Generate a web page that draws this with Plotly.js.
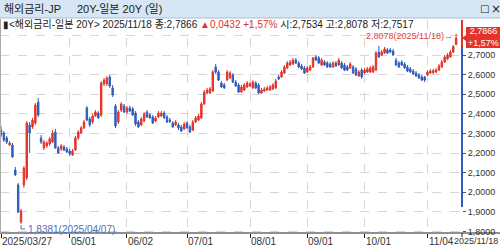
<!DOCTYPE html>
<html><head><meta charset="utf-8">
<script src="https://cdn.plot.ly/plotly-3.0.1.min.js"></script>
<style>html,body{margin:0;padding:0;background:#fff;}#c{width:500px;height:247px;}</style>
</head><body><div id="c"></div>
<script>
const dates = [
"2025-03-27","2025-03-28","2025-03-31",
"2025-04-01","2025-04-02","2025-04-03","2025-04-04","2025-04-07","2025-04-08","2025-04-09","2025-04-10","2025-04-11","2025-04-14","2025-04-15","2025-04-16","2025-04-17","2025-04-18","2025-04-21","2025-04-22","2025-04-23","2025-04-24","2025-04-25","2025-04-28","2025-04-30",
"2025-05-01","2025-05-02","2025-05-07","2025-05-08","2025-05-09","2025-05-12","2025-05-13","2025-05-14","2025-05-15","2025-05-16","2025-05-19","2025-05-20","2025-05-21","2025-05-22","2025-05-23","2025-05-26","2025-05-27","2025-05-28","2025-05-29","2025-05-30",
"2025-06-02","2025-06-03","2025-06-04","2025-06-05","2025-06-06","2025-06-09","2025-06-10","2025-06-11","2025-06-12","2025-06-13","2025-06-16","2025-06-17","2025-06-18","2025-06-19","2025-06-20","2025-06-23","2025-06-24","2025-06-25","2025-06-26","2025-06-27","2025-06-30",
"2025-07-01","2025-07-02","2025-07-03","2025-07-04","2025-07-07","2025-07-08","2025-07-09","2025-07-10","2025-07-11","2025-07-14","2025-07-15","2025-07-16","2025-07-17","2025-07-18","2025-07-22","2025-07-23","2025-07-24","2025-07-25","2025-07-28","2025-07-29","2025-07-30","2025-07-31",
"2025-08-01","2025-08-04","2025-08-05","2025-08-06","2025-08-07","2025-08-08","2025-08-12","2025-08-13","2025-08-14","2025-08-15","2025-08-18","2025-08-19","2025-08-20","2025-08-21","2025-08-22","2025-08-25","2025-08-26","2025-08-27","2025-08-28","2025-08-29",
"2025-09-01","2025-09-02","2025-09-03","2025-09-04","2025-09-05","2025-09-08","2025-09-09","2025-09-10","2025-09-11","2025-09-12","2025-09-16","2025-09-17","2025-09-18","2025-09-19","2025-09-22","2025-09-24","2025-09-25","2025-09-26","2025-09-29","2025-09-30",
"2025-10-01","2025-10-02","2025-10-03","2025-10-06","2025-10-07","2025-10-08","2025-10-09","2025-10-10","2025-10-14","2025-10-15","2025-10-16","2025-10-17","2025-10-20","2025-10-21","2025-10-22","2025-10-23","2025-10-24","2025-10-27","2025-10-28","2025-10-29","2025-10-30","2025-10-31",
"2025-11-04","2025-11-05","2025-11-06","2025-11-07","2025-11-10","2025-11-11","2025-11-12","2025-11-13","2025-11-14","2025-11-17","2025-11-18"
];
const openV = [
2.317,2.302,2.277,2.241,2.241,2.113,2.037,1.848,2.037,2.073,
2.343,2.333,2.353,2.460,2.277,2.226,2.236,2.246,2.256,2.307,
2.226,2.221,2.231,2.221,2.210,2.190,2.215,2.277,2.302,2.328,
2.430,2.374,2.358,2.389,2.404,2.394,2.552,2.552,2.588,2.532,
2.440,2.358,2.419,2.440,2.409,2.430,2.425,2.404,2.358,2.343,
2.363,2.409,2.394,2.384,2.363,2.384,2.389,2.404,2.384,2.368,
2.353,2.343,2.343,2.333,2.323,2.353,2.333,2.317,2.358,2.368,
2.379,2.450,2.506,2.506,2.516,2.639,2.613,2.557,2.547,2.572,
2.583,2.598,2.562,2.547,2.511,2.521,2.537,2.542,2.532,2.557,
2.547,2.506,2.516,2.521,2.521,2.527,2.532,2.588,2.588,2.608,
2.634,2.649,2.654,2.674,2.659,2.644,2.634,2.613,2.623,2.639,
2.690,2.685,2.649,2.664,2.659,2.654,2.639,2.659,2.649,2.659,
2.649,2.639,2.634,2.639,2.629,2.593,2.623,2.608,2.613,2.613,
2.613,2.623,2.715,2.700,2.710,2.726,2.726,2.720,2.674,2.659,
2.664,2.654,2.639,2.629,2.618,2.608,2.598,2.588,2.588,2.598,
2.608,2.610,2.613,2.623,2.639,2.664,2.680,2.690,2.715,2.7534
];
const highV = [
2.338,2.312,2.287,2.261,2.251,2.129,2.047,1.915,2.134,2.363,
2.358,2.379,2.455,2.481,2.292,2.266,2.261,2.282,2.317,2.323,
2.236,2.246,2.241,2.231,2.221,2.221,2.287,2.317,2.338,2.368,
2.440,2.384,2.399,2.419,2.414,2.567,2.583,2.593,2.598,2.547,
2.450,2.419,2.460,2.450,2.440,2.440,2.435,2.414,2.368,2.384,
2.409,2.419,2.404,2.394,2.389,2.414,2.414,2.414,2.394,2.379,
2.363,2.368,2.353,2.343,2.358,2.363,2.343,2.368,2.389,2.399,
2.460,2.521,2.532,2.537,2.623,2.654,2.623,2.567,2.557,2.623,
2.618,2.608,2.572,2.557,2.547,2.557,2.567,2.562,2.572,2.567,
2.557,2.532,2.537,2.542,2.547,2.557,2.578,2.598,2.623,2.649,
2.669,2.674,2.685,2.685,2.669,2.654,2.644,2.644,2.649,2.690,
2.700,2.695,2.685,2.674,2.669,2.664,2.669,2.669,2.685,2.669,
2.659,2.649,2.664,2.649,2.639,2.623,2.634,2.634,2.639,2.644,
2.649,2.720,2.746,2.726,2.741,2.736,2.736,2.731,2.685,2.669,
2.674,2.664,2.649,2.639,2.629,2.618,2.608,2.598,2.593,2.623,
2.629,2.629,2.634,2.654,2.674,2.700,2.710,2.726,2.751,2.8078
];
const lowV = [
2.282,2.256,2.246,2.236,2.175,2.083,1.894,1.8381,2.022,2.062,
2.200,2.323,2.343,2.384,2.246,2.215,2.226,2.236,2.251,2.221,
2.195,2.210,2.210,2.200,2.185,2.185,2.210,2.266,2.297,2.323,
2.363,2.333,2.348,2.384,2.374,2.384,2.542,2.542,2.532,2.486,
2.328,2.348,2.409,2.404,2.399,2.409,2.389,2.338,2.328,2.338,
2.358,2.379,2.374,2.348,2.358,2.379,2.384,2.374,2.353,2.353,
2.328,2.338,2.317,2.307,2.317,2.323,2.302,2.312,2.353,2.363,
2.374,2.445,2.501,2.501,2.511,2.603,2.567,2.532,2.527,2.567,
2.578,2.557,2.537,2.506,2.506,2.516,2.532,2.537,2.527,2.527,
2.501,2.501,2.511,2.516,2.516,2.521,2.527,2.572,2.583,2.603,
2.629,2.644,2.649,2.654,2.634,2.623,2.603,2.608,2.618,2.634,
2.669,2.654,2.644,2.644,2.634,2.634,2.634,2.639,2.644,2.629,
2.618,2.618,2.629,2.603,2.593,2.588,2.578,2.603,2.608,2.608,
2.608,2.618,2.685,2.695,2.705,2.705,2.710,2.695,2.644,2.634,
2.644,2.629,2.613,2.608,2.598,2.588,2.578,2.567,2.562,2.593,
2.603,2.603,2.608,2.618,2.634,2.659,2.674,2.685,2.710,2.7517
];
const closeV = [
2.292,2.266,2.256,2.251,2.180,2.088,1.899,1.904,2.123,2.353,
2.302,2.368,2.445,2.394,2.256,2.256,2.251,2.272,2.302,2.226,
2.200,2.236,2.215,2.205,2.195,2.210,2.277,2.307,2.328,2.358,
2.368,2.343,2.389,2.409,2.379,2.557,2.572,2.583,2.542,2.496,
2.338,2.409,2.450,2.409,2.430,2.414,2.394,2.348,2.333,2.374,
2.399,2.384,2.379,2.353,2.379,2.404,2.404,2.379,2.358,2.361,
2.333,2.358,2.328,2.312,2.348,2.328,2.307,2.358,2.379,2.389,
2.450,2.511,2.521,2.527,2.613,2.613,2.572,2.537,2.532,2.613,
2.608,2.562,2.542,2.511,2.537,2.547,2.557,2.552,2.562,2.532,
2.506,2.521,2.527,2.532,2.537,2.547,2.567,2.578,2.613,2.639,
2.659,2.664,2.674,2.659,2.639,2.629,2.608,2.634,2.639,2.685,
2.674,2.659,2.674,2.649,2.639,2.639,2.659,2.644,2.674,2.634,
2.623,2.623,2.654,2.608,2.598,2.613,2.588,2.623,2.629,2.634,
2.639,2.710,2.690,2.715,2.731,2.710,2.715,2.700,2.649,2.639,
2.649,2.634,2.618,2.613,2.603,2.593,2.583,2.572,2.572,2.613,
2.618,2.620,2.623,2.644,2.664,2.690,2.700,2.715,2.7434,2.7866
];
const tickDates = ["2025-03-27","2025-05-01","2025-06-02","2025-07-01","2025-08-01","2025-09-01","2025-10-01","2025-11-04"];
const tickLabels = ["2025/03/27","05/01","06/02","07/01","08/01","09/01","10/01","11/04"];
const yTicks = [1.8, 1.9, 2.0, 2.1, 2.2, 2.3, 2.4, 2.5, 2.6, 2.7];
const yTopGrid = 2.8;
const lastLabel = "2025/11/18";
const titleLeft = "해외금리-JP";
const titleRight = "20Y-일본 20Y (일)";
const infoPre = "▮<해외금리-일본 20Y> 2025/11/18 종:2,7866 ";
const infoChg = "▲0,0432 +1,57%";
const infoPost = " 시:2,7534 고:2,8078 저:2,7517";
const tagLines = ["2,7866","+1,57%"];
const highNote = "2,8078(2025/11/18)→";
const lowNote = "1,8381(2025/04/07)";

const RED = "#e2342b", BLUE = "#2f5cbd";
const W = 462, PT = 20, PB = 233, PH = PB - PT;
const px = x => x / W;
const py = y => (PB - y) / PH;
const FONT = "Liberation Sans, Noto Sans CJK KR, sans-serif";

const trace = {
  type: "candlestick", x: dates, open: openV, high: highV, low: lowV, close: closeV,
  increasing: {line: {color: RED, width: 1}, fillcolor: RED},
  decreasing: {line: {color: BLUE, width: 1}, fillcolor: BLUE},
  whiskerwidth: 0, hoverinfo: "skip", showlegend: false
};

const ann = [];
tickDates.forEach((d, i) => ann.push({xref: "x", yref: "paper", x: dates.indexOf(d), y: py(241), xanchor: "left", yanchor: "middle",
  text: tickLabels[i], showarrow: false, font: {family: FONT, size: 10, color: "#333"}, xshift: -1}));
ann.push({xref: "paper", yref: "paper", x: px(500), y: py(241), xanchor: "right", yanchor: "middle", text: lastLabel, showarrow: false, font: {family: FONT, size: 9, color: "#333"}});
ann.push({xref: "paper", yref: "paper", x: px(2), y: py(9), xanchor: "left", yanchor: "middle", text: titleLeft, showarrow: false, font: {family: FONT, size: 11, color: "#222"}});
ann.push({xref: "paper", yref: "paper", x: px(75), y: py(9), xanchor: "left", yanchor: "middle", text: titleRight, showarrow: false, font: {family: FONT, size: 11, color: "#222"}});
ann.push({xref: "paper", yref: "paper", x: px(478), y: py(9), xanchor: "left", yanchor: "middle", text: "□", showarrow: false, font: {family: "DejaVu Sans", size: 10, color: "#222"}});
ann.push({xref: "paper", yref: "paper", x: px(489), y: py(9), xanchor: "left", yanchor: "middle", text: "×", showarrow: false, font: {family: "DejaVu Sans", size: 12, color: "#222"}});
ann.push({xref: "paper", yref: "paper", x: px(1), y: py(24), xanchor: "left", yanchor: "middle",
  text: infoPre + '<span style="color:' + RED + '">' + infoChg + '</span>' + infoPost, showarrow: false, font: {family: FONT, size: 10, color: "#222"}});
ann.push({xref: "paper", yref: "paper", x: px(483), y: py(37.5), xanchor: "center", yanchor: "middle", text: tagLines.join("<br>"), showarrow: false,
  font: {family: FONT, size: 9, color: "#fff"}, borderpad: 0});
ann.push({xref: "x", yref: "y", x: 159, y: highV[159], xanchor: "right", yanchor: "middle", xshift: -1, yshift: -2, text: highNote, showarrow: false, font: {family: FONT, size: 9, color: "#d9453b"}});
ann.push({xref: "x", yref: "paper", x: 7, y: py(229), xanchor: "left", yanchor: "middle", xshift: 5, text: lowNote, showarrow: false, font: {family: FONT, size: 10, color: "#4d70b8"}});

const P = (x, y) => px(x) + "," + py(y);
const shapes = [
  {type: "line", xref: "paper", yref: "y", x0: 0, x1: 1, y0: yTopGrid, y1: yTopGrid, line: {color: "#d6d6d6", width: 1, dash: "dash"}, layer: "below"},
  {type: "rect", xref: "paper", yref: "paper", x0: px(0), x1: px(500), y0: py(18), y1: py(0), fillcolor: "#d6e6f4", line: {width: 0}, layer: "above"},
  {type: "line", xref: "paper", yref: "paper", x0: px(0), x1: px(500), y0: py(18), y1: py(18), line: {color: "#a8bfd6", width: 1}},
  {type: "line", xref: "paper", yref: "paper", x0: px(0), x1: px(500), y0: 0, y1: 0, line: {color: "#222", width: 1}},
  {type: "line", xref: "paper", yref: "paper", x0: px(0.5), x1: px(0.5), y0: 0, y1: py(19), line: {color: "#aaa", width: 1}},
  {type: "line", xref: "paper", yref: "paper", x0: 1, x1: 1, y0: 0, y1: py(237), line: {color: "#222", width: 1}},
  {type: "line", xref: "paper", yref: "y", x0: 1, x1: 1, y0: 2.741, y1: 2.8786, line: {color: RED, width: 2}},
  {type: "line", xref: "paper", yref: "y", x0: 1, x1: 1, y0: 1.924, y1: 2.741, line: {color: BLUE, width: 2}},
  {type: "path", xref: "paper", yref: "paper", path: "M" + P(466, 27) + "L" + P(500, 27) + "L" + P(500, 48) + "L" + P(466, 48) + "L" + P(466, 41) + "L" + P(462, 38) + "L" + P(466, 35) + "Z", fillcolor: RED, line: {width: 0}},
  {type: "path", xref: "paper", yref: "paper", path: "M" + P(21, 225) + "L" + P(21, 229) + "L" + P(25, 229), line: {color: "#4d70b8", width: 1}}
];

const layout = {
  width: 500, height: 247, margin: {l: 0, r: 38, t: PT, b: 247 - PB, pad: 0},
  paper_bgcolor: "#fff", plot_bgcolor: "#fff", separators: ", ", showlegend: false,
  xaxis: {type: "category", range: [-0.35, 161.05], tickmode: "array", tickvals: tickDates, ticktext: tickDates.map(() => ""),
    showgrid: true, gridcolor: "#d6d6d6", griddash: "dash", gridwidth: 1, ticks: "outside", ticklen: 4, tickcolor: "#222",
    showline: false, zeroline: false, rangeslider: {visible: false}, fixedrange: true},
  yaxis: {side: "right", range: [1.7918, 2.8786], tickmode: "array", tickvals: yTicks, tickformat: ".4f", showgrid: true, gridcolor: "#d6d6d6", griddash: "dash",
    ticks: "outside", ticklen: 3, tickcolor: "#555", showline: false, zeroline: false, fixedrange: true,
    tickfont: {family: FONT, size: 9, color: "#333"}},
  annotations: ann, shapes: shapes, font: {family: FONT}
};
Plotly.newPlot("c", [trace], layout, {staticPlot: true, displayModeBar: false});
</script></body></html>
